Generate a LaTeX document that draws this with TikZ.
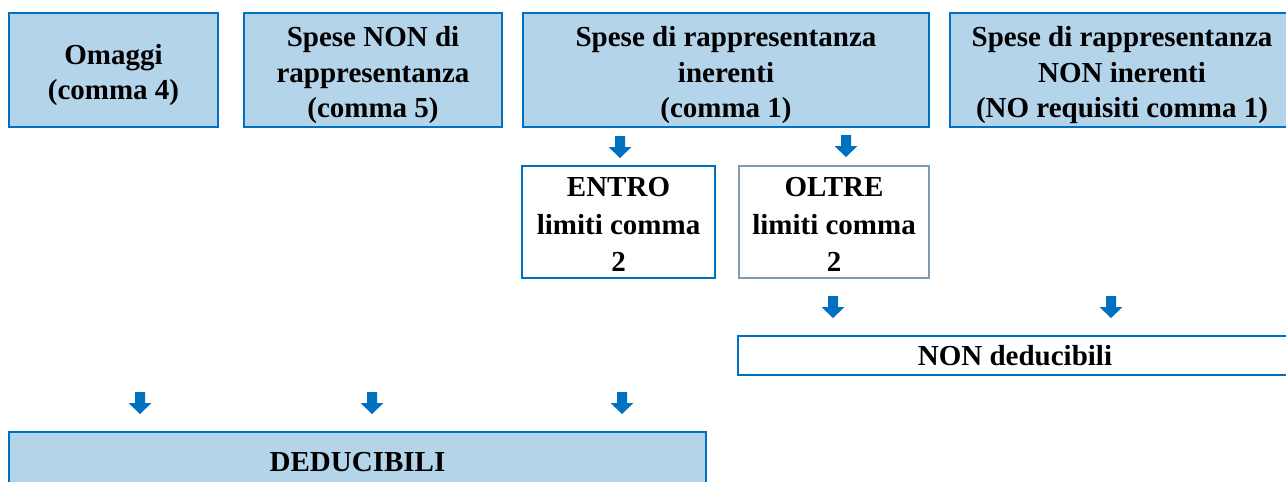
\documentclass[tikz,border=0pt]{standalone}
\usepackage{fontspec}
\setmainfont{Liberation Serif}
\definecolor{myblue}{RGB}{0,112,192}
\definecolor{mylight}{RGB}{180,212,234}
\definecolor{mygray}{RGB}{127,157,178}
\tikzset{
  base/.style={line width=2pt, inner sep=0pt},
  bluebox/.style={base, draw=myblue, fill=mylight},
  whitebox/.style={base, draw=myblue, fill=white},
  graybox/.style={base, draw=mygray, fill=white},
  txt/.style={inner sep=0pt, align=center, font=\fontsize{29}{35.5}\selectfont\bfseries},
  txtwide/.style={inner sep=0pt, align=center, font=\fontsize{29}{37.5}\selectfont\bfseries},
  downarrow/.pic={\fill[myblue] (-5,0) -- (5,0) -- (5,11) -- (11.5,11) -- (0,22) -- (-11.5,11) -- (-5,11) -- cycle;}
}
\begin{document}
\begin{tikzpicture}[x=1pt,y=-1pt]
\useasboundingbox (0,0) rectangle (1286,482);
\clip (0,0) rectangle (1286,482);
\node[bluebox, minimum width=209, minimum height=114] (b1) at (113.5,70) {};
\node[txt] (t1) at ([yshift=-5pt]b1.center) {Omaggi\\(comma 4)};
\node[bluebox, minimum width=258, minimum height=114] (b2) at (373,70) {};
\node[txt] (t2) at ([yshift=-5.5pt]b2.center) {Spese NON di\\rappresentanza\\(comma 5)};
\node[bluebox, minimum width=406, minimum height=114] (b3) at (726,70) {};
\node[txt] (t3) at ([yshift=-5.5pt]b3.center) {Spese di rappresentanza\\inerenti\\(comma 1)};
\node[bluebox, minimum width=344, minimum height=114] (b4) at (1122,70) {};
\node[txt] (t4) at ([yshift=-5.5pt]b4.center) {Spese di rappresentanza\\NON inerenti\\(NO requisiti comma 1)};
\node[whitebox, minimum width=193, minimum height=112] (entro) at (618.5,222) {};
\node[txtwide] (te) at ([yshift=-2.5pt]entro.center) {ENTRO\\limiti comma\\2};
\node[graybox, minimum width=190, minimum height=112] (oltre) at (834,222) {};
\node[txtwide] (to) at ([yshift=-2.5pt]oltre.center) {OLTRE\\limiti comma\\2};
\node[whitebox, minimum width=554, minimum height=39] (nd) at (1015,355.5) {};
\node[txt] (tnd) at (nd.center) {NON deducibili};
\node[bluebox, minimum width=697, minimum height=60] (ded) at (357.5,462) {};
\node[txt] (tded) at (ded.center) {DEDUCIBILI};
\pic at (620,136) {downarrow};
\pic at (846,135) {downarrow};
\pic at (833,296) {downarrow};
\pic at (1111,296) {downarrow};
\pic at (140,392) {downarrow};
\pic at (372,392) {downarrow};
\pic at (622,392) {downarrow};
\end{tikzpicture}
\end{document}
